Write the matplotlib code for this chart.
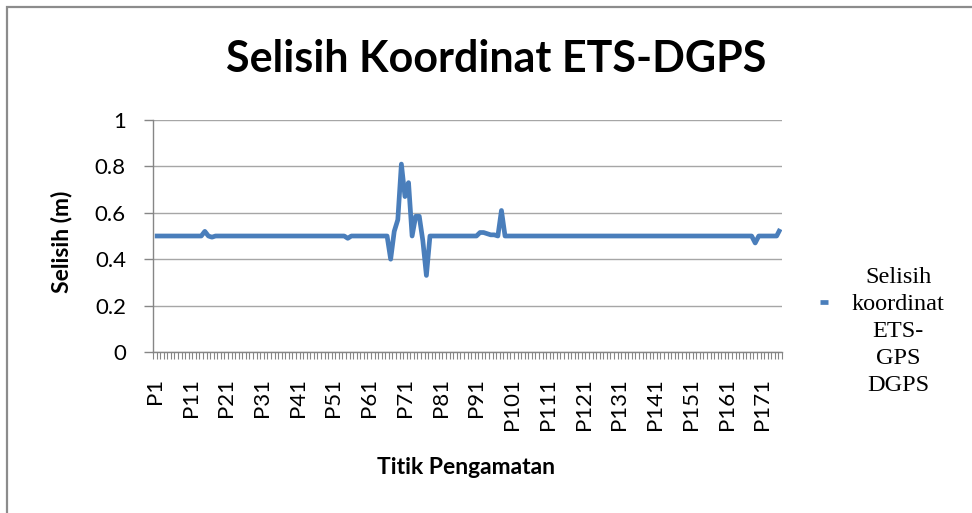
import numpy as np
import matplotlib
matplotlib.use("Agg")
import matplotlib.pyplot as plt
from matplotlib.patches import Rectangle

# ---- data ----
values = [
    0.5, 0.5, 0.5, 0.5, 0.5, 0.5, 0.5, 0.5, 0.5, 0.5,          # P1-P10
    0.5, 0.5, 0.5, 0.5, 0.52, 0.5, 0.495, 0.5, 0.5, 0.5,       # P11-P20
    0.5, 0.5, 0.5, 0.5, 0.5, 0.5, 0.5, 0.5, 0.5, 0.5,          # P21-P30
    0.5, 0.5, 0.5, 0.5, 0.5, 0.5, 0.5, 0.5, 0.5, 0.5,          # P31-P40
    0.5, 0.5, 0.5, 0.5, 0.5, 0.5, 0.5, 0.5, 0.5, 0.5,          # P41-P50
    0.5, 0.5, 0.5, 0.5, 0.49, 0.5, 0.5, 0.5, 0.5, 0.5,         # P51-P60
    0.5, 0.5, 0.5, 0.5, 0.5, 0.5, 0.40, 0.52, 0.57, 0.81,      # P61-P70
    0.67, 0.73, 0.50, 0.585, 0.585, 0.48, 0.33, 0.5, 0.5, 0.5, # P71-P80
    0.5, 0.5, 0.5, 0.5, 0.5, 0.5, 0.5, 0.5, 0.5, 0.5,          # P81-P90
    0.5, 0.515, 0.515, 0.51, 0.505, 0.505, 0.5, 0.61, 0.5, 0.5,  # P91-P100
    0.5, 0.5, 0.5, 0.5, 0.5, 0.5, 0.5, 0.5, 0.5, 0.5,          # P101-P110
    0.5, 0.5, 0.5, 0.5, 0.5, 0.5, 0.5, 0.5, 0.5, 0.5,          # P111-P120
    0.5, 0.5, 0.5, 0.5, 0.5, 0.5, 0.5, 0.5, 0.5, 0.5,          # P121-P130
    0.5, 0.5, 0.5, 0.5, 0.5, 0.5, 0.5, 0.5, 0.5, 0.5,          # P131-P140
    0.5, 0.5, 0.5, 0.5, 0.5, 0.5, 0.5, 0.5, 0.5, 0.5,          # P141-P150
    0.5, 0.5, 0.5, 0.5, 0.5, 0.5, 0.5, 0.5, 0.5, 0.5,          # P151-P160
    0.5, 0.5, 0.5, 0.5, 0.5, 0.5, 0.5, 0.5, 0.47, 0.5,         # P161-P170
    0.5, 0.5, 0.5, 0.5, 0.5, 0.53,                             # P171-P176
]
categories = ["P%d" % (i + 1) for i in range(len(values))]
label_step = 10
yticks = [0, 0.2, 0.4, 0.6, 0.8, 1]
ytick_labels = ["0", "0.2", "0.4", "0.6", "0.8", "1"]
title = "Selisih Koordinat ETS-DGPS"
xlabel = "Titik Pengamatan"
ylabel = "Selisih (m)"
series_label = "Selisih\nkoordinat\nETS-\nGPS\nDGPS"

# ---- style ----
W, H = 972, 513
DPI = 100
line_color = "#4A7EBB"
axis_color = "#868686"
grid_color = "#a6a6a6"
sans = ["Lato", "DejaVu Sans"]
serif = ["Liberation Serif", "DejaVu Serif"]

fig = plt.figure(figsize=(W / DPI, H / DPI), dpi=DPI)
fig.patch.set_facecolor("white")

# plot area in pixel coords
L, R, T, B = 153, 782, 120, 352
ax = fig.add_axes([L / W, 1 - B / H, (R - L) / W, (B - T) / H])

x = np.arange(1, len(values) + 1)
ax.plot(x, values, color=line_color, lw=3.4, solid_joinstyle="round",
        solid_capstyle="butt", label=series_label, zorder=3)

ax.set_xlim(0.5, len(values) + 0.5)
ax.set_ylim(0, 1)

# y axis
ax.set_yticks(yticks)
ax.set_yticklabels(ytick_labels, family=sans, fontsize=16)
ax.tick_params(axis="y", length=6.5, width=1, color=axis_color, pad=13,
               direction="out")
ax.yaxis.grid(True, color=grid_color, lw=1)
ax.set_axisbelow(True)

# x axis: labels at every 10th category center, small ticks at boundaries
lab_pos = x[::label_step]
ax.set_xticks(lab_pos)
ax.set_xticklabels(categories[::label_step], rotation=90, family=sans,
                   fontsize=16)
ax.tick_params(axis="x", which="major", length=0, pad=18.5)
ax.set_xticks(np.arange(0.5, len(values) + 1, 1), minor=True)
ax.tick_params(axis="x", which="minor", length=5, width=0.8, color=axis_color,
               direction="out")

for s in ["top", "right"]:
    ax.spines[s].set_visible(False)
for s in ["left", "bottom"]:
    ax.spines[s].set_color(axis_color)
    ax.spines[s].set_linewidth(1)

# titles
fig.text(496 / W, 1 - 59 / H, title, ha="center", va="center",
         family=sans, fontsize=31, fontweight="bold")
fig.text(466 / W, 1 - 468 / H, xlabel, ha="center", va="center",
         family=sans, fontsize=16.5, fontweight="bold")
fig.text(61 / W, 1 - 242 / H, ylabel, ha="center", va="center",
         rotation=90, family=sans, fontsize=16.5, fontweight="bold")

# legend
leg = ax.legend(loc="center left", bbox_to_anchor=(820 / W, 1 - 331.5 / H),
                bbox_transform=fig.transFigure, frameon=False,
                prop={"family": serif, "size": 17.5}, handlelength=0.33,
                handletextpad=0.98, borderpad=0, borderaxespad=0)
for t in leg.get_texts():
    t.set_multialignment("center")
    t.set_linespacing(1.36)
h = leg.legend_handles[0]
h.set_linewidth(3.4)
h.set_ydata(np.asarray(h.get_ydata()) + 21)

# outer chart border (partially visible)
fig.add_artist(Rectangle((7 / W, -0.5), 2.0, 1.5 - 7 / H,
                         transform=fig.transFigure, fill=False,
                         edgecolor="#8c8c8c", lw=1.6, clip_on=False))

fig.savefig("out.png", dpi=DPI)
